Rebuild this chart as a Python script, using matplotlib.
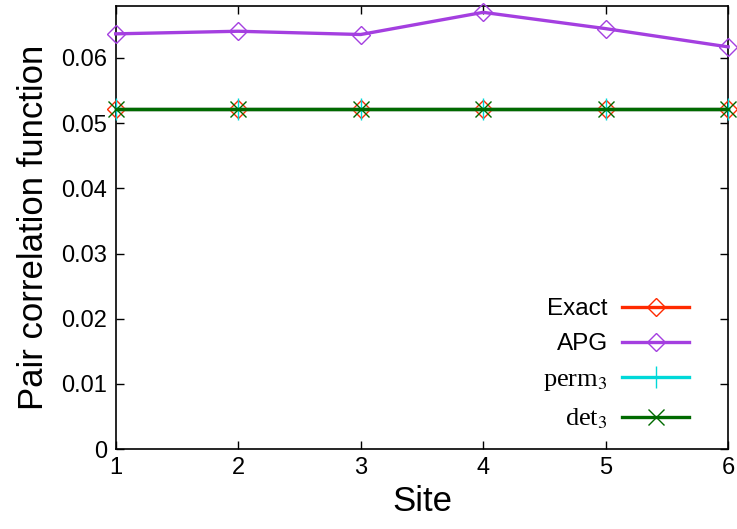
import matplotlib
matplotlib.use("Agg")
import matplotlib.pyplot as plt

sites = [1, 2, 3, 4, 5, 6]
exact = [0.0521, 0.0521, 0.0521, 0.0521, 0.0521, 0.0521]
apg = [0.0637, 0.0641, 0.0636, 0.0670, 0.0645, 0.0617]
perm3 = [0.0521, 0.0521, 0.0521, 0.0521, 0.0521, 0.0521]
det3 = [0.0521, 0.0521, 0.0521, 0.0521, 0.0521, 0.0521]
yticks = [0, 0.01, 0.02, 0.03, 0.04, 0.05, 0.06]
ytick_labels = ["0", "0.01", "0.02", "0.03", "0.04", "0.05", "0.06"]

plt.rcParams["font.family"] = ["Liberation Sans", "DejaVu Sans"]
plt.rcParams["mathtext.fontset"] = "stix"

fig = plt.figure(figsize=(7.37, 5.29), dpi=100)
ax = fig.add_axes([0.157, 0.151, 0.831, 0.838])

lw = 2.4
ax.plot(sites, exact, color="#ff2a00", lw=lw, marker="D", ms=9.5, mfc="none",
        mew=1.0, label="Exact", clip_on=False, zorder=3)
ax.plot(sites, apg, color="#a43fe0", lw=lw, marker="D", ms=9.5, mfc="none",
        mew=1.0, label="APG", clip_on=False, zorder=3)
ax.plot(sites, perm3, color="#00d8d8", lw=lw, marker="|", ms=16,
        mew=1.0, label="perm$_3$", clip_on=False, zorder=4)
ax.plot(sites, det3, color="#006a00", lw=lw, marker="x", ms=12,
        mew=1.0, label="det$_3$", clip_on=False, zorder=5)

ax.set_xlim(1, 6)
ax.set_ylim(0, 0.068)
ax.set_xticks(sites)
ax.set_yticks(yticks)
ax.set_yticklabels(ytick_labels)
ax.tick_params(direction="in", length=6, width=1, labelsize=17, top=True, right=True, pad=6)
for s in ax.spines.values():
    s.set_linewidth(1.2)

ax.set_xlabel("Site", fontsize=25, labelpad=4)
ax.set_ylabel("Pair correlation function", fontsize=25, labelpad=8)

leg = ax.legend(loc="lower right", bbox_to_anchor=(0.972, -0.008), frameon=False,
                markerfirst=False, fontsize=17.5, handlelength=2.75,
                labelspacing=0.55, handletextpad=0.6)
for t in leg.get_texts():
    t.set_ha("right")
for t in leg.get_texts()[2:]:
    t.set_family(["Liberation Serif", "DejaVu Serif"])
    t.set_fontsize(19)

fig.savefig("out.png", dpi=100)
